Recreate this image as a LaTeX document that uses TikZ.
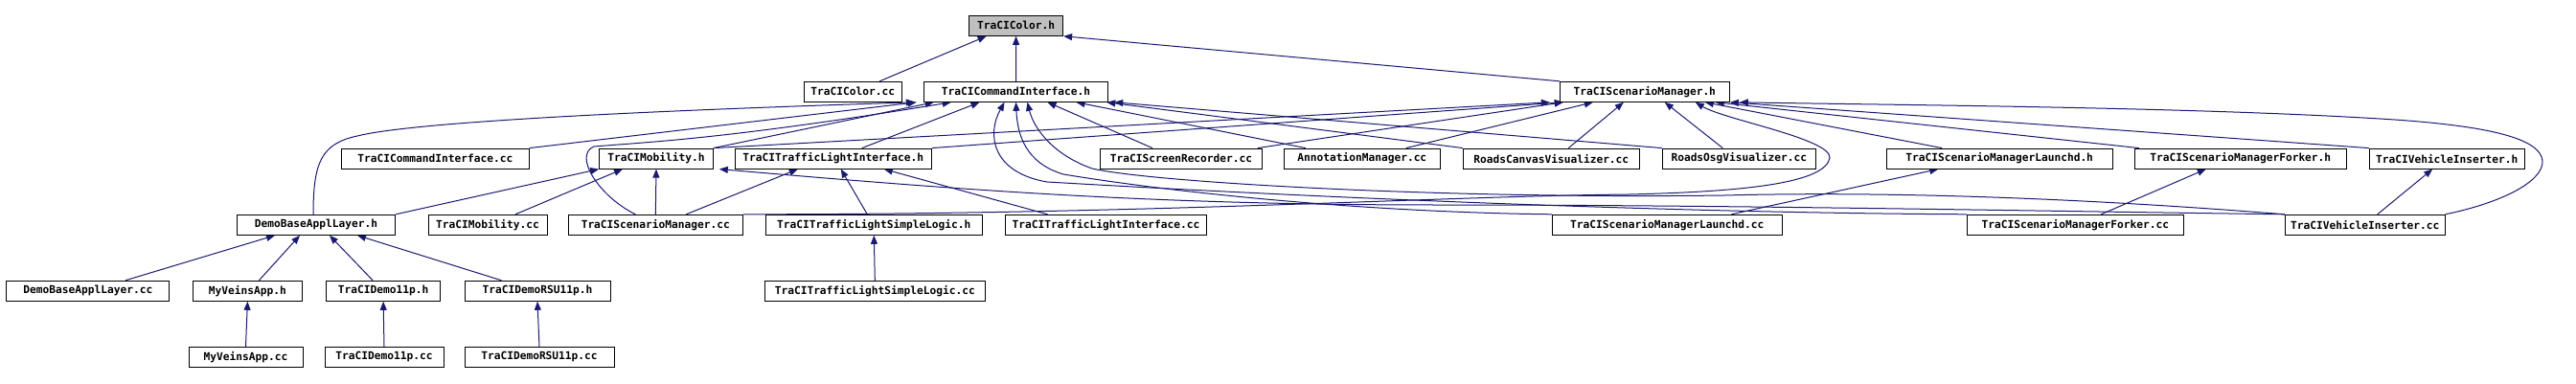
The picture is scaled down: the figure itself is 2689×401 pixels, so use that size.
\documentclass[tikz,border=0pt]{standalone}
\usepackage{fontspec}
\usepackage{tikz}
\usetikzlibrary{arrows.meta,backgrounds}
\newfontfamily\dotfont{DejaVu Sans Mono}
\definecolor{edgeblue}{HTML}{191970}
\definecolor{rootgray}{HTML}{BFBFBF}

\begin{document}
\begin{tikzpicture}[
  x=1pt,y=-1pt,
  filebox/.style={draw=black,fill=white,line width=1pt,minimum width=#1,
    minimum height=21pt,inner xsep=2pt,inner ysep=0pt,
    font=\dotfont\bfseries\fontsize{11.2}{13}\selectfont},
  dep/.style={-{Triangle[length=9pt,width=7pt]},line width=1pt,edgeblue}
]
\useasboundingbox (0,0) rectangle (2689,401);

% rows 0 and 1
\node[filebox=98,fill=rootgray] (colorh) at (1060.6,26.8) {TraCIColor.h};
\node[filebox=101.7] (colorcc) at (890.2,95.8) {TraCIColor.cc};
\node[filebox=192.4] (cmdh) at (1060.5,95.8) {TraCICommandInterface.h};
\node[filebox=177] (smh) at (1716.8,95.8) {TraCIScenarioManager.h};

% row 2
\node[filebox=195.7] (cmdcc) at (454.4,165.6) {TraCICommandInterface.cc};
\node[filebox=118.6] (mobh) at (685,165.6) {TraCIMobility.h};
\node[filebox=205] (tlih) at (869.8,165.6) {TraCITrafficLightInterface.h};
\node[filebox=168.6] (screc) at (1233,165.6) {TraCIScreenRecorder.cc};
\node[filebox=163] (annot) at (1421.8,165.6) {AnnotationManager.cc};
\node[filebox=184] (canvas) at (1619.3,165.6) {RoadsCanvasVisualizer.cc};
\node[filebox=160] (osg) at (1815.3,165.6) {RoadsOsgVisualizer.cc};
\node[filebox=235.7] (launchh) at (2087.2,165.6) {TraCIScenarioManagerLaunchd.h};
\node[filebox=221] (forkh) at (2338.8,165.6) {TraCIScenarioManagerForker.h};
\node[filebox=161.7] (vih) at (2554.2,165.6) {TraCIVehicleInserter.h};

% row 3
\node[filebox=165.3] (dbalh) at (330,234.8) {DemoBaseApplLayer.h};
\node[filebox=124] (mobcc) at (509,234.8) {TraCIMobility.cc};
\node[filebox=182] (smcc) at (684.3,234.8) {TraCIScenarioManager.cc};
\node[filebox=226] (tlslh) at (912.3,234.8) {TraCITrafficLightSimpleLogic.h};
\node[filebox=209.6] (tlicc) at (1154.5,234.8) {TraCITrafficLightInterface.cc};
\node[filebox=240] (launchcc) at (1740.3,234.8) {TraCIScenarioManagerLaunchd.cc};
\node[filebox=226] (forkcc) at (2166.3,234.8) {TraCIScenarioManagerForker.cc};
\node[filebox=166.7] (vicc) at (2468.7,234.8) {TraCIVehicleInserter.cc};

% rows 4 and 5
\node[filebox=170] (dbalcc) at (91.9,303.8) {DemoBaseApplLayer.cc};
\node[filebox=114.7] (myh) at (258.4,303.8) {MyVeinsApp.h};
\node[filebox=119.4] (demoh) at (400.1,303.8) {TraCIDemo11p.h};
\node[filebox=152] (rsuh) at (561,303.8) {TraCIDemoRSU11p.h};
\node[filebox=230.5] (tlslcc) at (913.3,303.8) {TraCITrafficLightSimpleLogic.cc};
\node[filebox=119] (mycc) at (256.5,373) {MyVeinsApp.cc};
\node[filebox=124] (democc) at (401,373) {TraCIDemo11p.cc};
\node[filebox=156] (rsucc) at (563,373) {TraCIDemoRSU11p.cc};

\begin{scope}[on background layer]
% into TraCIColor.h
\draw[dep] ([xshift=28]colorcc.north) -- ([xshift=-31]colorh.south);
\draw[dep] (cmdh.north) -- (colorh.south);
\draw[dep] (smh.north west) -- (colorh.south east);
% into TraCICommandInterface.h
\draw[dep] ([xshift=-3]dbalh.north) .. controls (327,170) and (335,150) .. (373,142)
  .. controls (420,130) and (600,118) .. ([xshift=-9]cmdh.south west);
\draw[dep] (cmdcc.north east) -- ([xshift=-7]cmdh.south west);
\draw[dep] (mobh.north east) -- ([xshift=11]cmdh.south west);
\draw[dep] ([xshift=-21]smcc.north) .. controls (625,205) and (598,162) .. (620,153)
  .. controls (680,148) and (760,145) .. ([xshift=29]cmdh.south west);
\draw[dep] ([xshift=30]tlih.north) -- ([xshift=-38]cmdh.south);
\draw[dep] ([xshift=-30]screc.north) -- ([xshift=33]cmdh.south);
\draw[dep] ([xshift=-59]annot.north) -- ([xshift=63]cmdh.south);
\draw[dep] (canvas.north west) -- ([xshift=-2]cmdh.south east);
\draw[dep] (osg.north west) -- ([xshift=6]cmdh.south east);
\draw[dep] (forkcc.north west) .. controls (1700,222) and (1300,202) .. (1093,190)
  .. controls (1035,180) and (1030,140) .. ([xshift=-12]cmdh.south);
\draw[dep] (launchcc.north west) .. controls (1450,222) and (1250,205) .. (1110,182)
  .. controls (1070,170) and (1062,140) .. (cmdh.south);
\draw[dep] (vicc.north west) .. controls (2150,205) and (1950,200) .. (1800,204)
  .. controls (1500,208) and (1200,190) .. (1140,176)
  .. controls (1095,160) and (1078,130) .. ([xshift=12]cmdh.south);
% into TraCIMobility.h
\draw[dep] (dbalh.north east) -- (mobh.south west);
\draw[dep] ([xshift=29]mobcc.north) -- ([xshift=-35]mobh.south);
\draw[dep] (smcc.north) -- (mobh.south);
\draw[dep] (vicc.north west) .. controls (2100,220) and (1800,214) .. (1500,214)
  .. controls (1200,214) and (1000,198) .. ([xshift=6]mobh.south east);
% into TraCIScenarioManager.h
\draw[dep] (mobh.north east) -- ([xshift=-10]smh.south west);
\draw[dep] (tlih.north east) -- ([xshift=4]smh.south west);
\draw[dep] ([xshift=-5]screc.north east) -- ([xshift=4]smh.south west);
\draw[dep] ([xshift=-36]annot.north east) -- ([xshift=35]smh.south west);
\draw[dep] ([xshift=18]canvas.north) -- ([xshift=-22]smh.south);
\draw[dep] ([xshift=-17]osg.north) -- ([xshift=21]smh.south);
\draw[dep] (smcc.north east) .. controls (1200,224) and (1500,205) .. (1700,203)
  .. controls (1830,200) and (1905,190) .. (1910,165)
  .. controls (1912,145) and (1800,125) .. ([xshift=53]smh.south);
\draw[dep] ([xshift=-60]launchh.north) -- ([xshift=63]smh.south);
\draw[dep] ([xshift=5]forkh.north west) -- ([xshift=-15]smh.south east);
\draw[dep] (vih.north west) -- (smh.south east);
\draw[dep] (vicc.north east) .. controls (2610,212) and (2655,190) .. (2654,168)
  .. controls (2652,145) and (2600,132) .. (2500,125)
  .. controls (2300,112) and (2000,110) .. ([xshift=10]smh.south east);
% into TraCITrafficLightInterface.h
\draw[dep] ([xshift=32]smcc.north) -- ([xshift=-37]tlih.south);
\draw[dep] ([xshift=-7]tlslh.north) -- ([xshift=8]tlih.south);
\draw[dep] ([xshift=-61]tlicc.north) -- ([xshift=53]tlih.south);
% scenario manager variants
\draw[dep] ([xshift=67]launchcc.north) -- ([xshift=-64]launchh.south);
\draw[dep] ([xshift=27]forkcc.north) -- ([xshift=-36]forkh.south);
\draw[dep] ([xshift=13]vicc.north) -- ([xshift=-15]vih.south);
% application layer
\draw[dep] ([xshift=39]dbalcc.north) -- ([xshift=-43]dbalh.south);
\draw[dep] ([xshift=12]myh.north) -- ([xshift=-17]dbalh.south);
\draw[dep] ([xshift=-11]demoh.north) -- ([xshift=14]dbalh.south);
\draw[dep] ([xshift=-37.5]rsuh.north) -- ([xshift=43]dbalh.south);
\draw[dep] (mycc.north) -- (myh.south);
\draw[dep] (democc.north) -- (demoh.south);
\draw[dep] (rsucc.north) -- (rsuh.south);
\draw[dep] (tlslcc.north) -- (tlslh.south);
\end{scope}
\end{tikzpicture}
\end{document}
